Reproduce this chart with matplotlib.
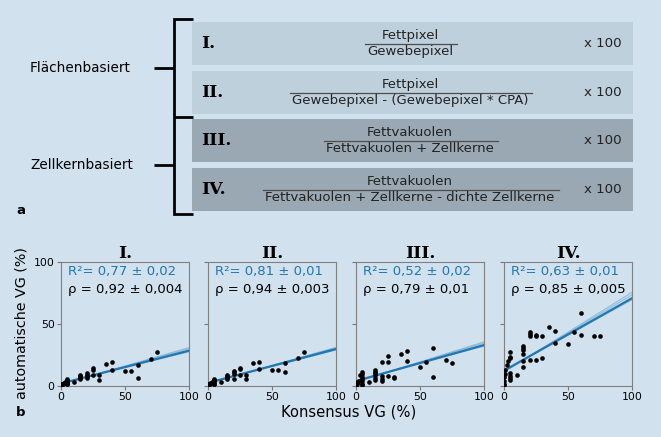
import numpy as np
import matplotlib
matplotlib.use('Agg')
from matplotlib import pyplot as plt
from matplotlib.patches import Rectangle

# ---- data ----
numerals = ['I.', 'II.', 'III.', 'IV.']
numerators = ['Fettpixel', 'Fettpixel', 'Fettvakuolen', 'Fettvakuolen']
denominators = ['Gewebepixel',
                'Gewebepixel - (Gewebepixel * CPA)',
                'Fettvakuolen + Zellkerne',
                'Fettvakuolen + Zellkerne - dichte Zellkerne']
groups = ['Flächenbasiert', 'Zellkernbasiert']

r2_text = ['0,77 ± 0,02', '0,81 ± 0,01', '0,52 ± 0,02', '0,63 ± 0,01']
rho_text = ['0,92 ± 0,004', '0,94 ± 0,003', '0,79 ± 0,01', '0,85 ± 0,005']

# consensus VG (%) - same samples in every panel
konsensus = [0, 0, 0, 0, 1, 1, 2, 3,
             5, 5, 5, 5, 5, 5, 5,
             10,
             15, 15, 15, 15, 15, 15,
             20, 20, 20, 20,
             25, 25, 25,
             30, 30,
             35,
             40, 40,
             50, 55,
             60, 60,
             70, 75]

auto_I = [0.5, 1, 1.5, 0, 2, 1, 2.2, 3.5,
          5.5, 4.5, 3.5, 2.7, 2, 1.5, 3,
          3.5,
          8.9, 7.5, 6.5, 5.6, 7, 8,
          10.2, 9, 6.2, 8,
          14.2, 12.9, 8.9,
          4.8, 8.9,
          17.5,
          19.6, 12.9,
          12.4, 12.4,
          16.9, 6.7,
          21.8, 27.7]

auto_II = [0.5, 1, 1.5, 0, 2, 1, 2.7, 3.5,
           6, 5, 4, 3, 2, 1.5, 4.5,
           3,
           8.9, 7.5, 5.6, 6.5, 8, 7,
           12, 10, 6, 11,
           14.8, 13.4, 8.9,
           8.9, 5.6,
           18.8,
           19.6, 13.7,
           12.9, 12.9,
           18.3, 11.6,
           22.3, 27.7]

auto_III = [1, 2, 0.5, 3, 2.5, 1.5, 4, 9,
            11, 9.5, 7.5, 5.6, 4, 2, 1,
            3,
            12.9, 11.6, 10.2, 8.9, 6.2, 4.8,
            19.6, 8.3, 4, 6,
            24.5, 19, 8.3,
            7.5, 6.8,
            25.5,
            28.2, 20.2,
            15.6, 19,
            30.9, 7.5,
            20.7, 18.8]

auto_IV = [0.5, 2, 4, 7, 10, 13, 17, 20,
           27.7, 23.7, 22.3, 10.2, 8.3, 6.7, 4.8,
           8.9,
           32.5, 30.4, 29, 25.5, 20, 15.6,
           43.8, 41.7, 40.6, 21,
           41.1, 40, 20.7,
           40, 22.3,
           47.3,
           44.4, 34.4,
           33.6, 43.3,
           58.6, 41.1,
           40, 40]

automatisch = [auto_I, auto_II, auto_III, auto_IV]

# regression fit value at x=0 and x=100; first entry is the main fit,
# the rest are the thin resampled fits
fit_start = [[2.0, 2.4, 1.6, 1.3],
             [2.5, 2.8, 2.2, 2.0],
             [4.0, 4.5, 3.6, 3.3],
             [12.3, 12.8, 11.8, 11.4]]
fit_end = [[28.5, 27.6, 30.0, 31.0],
           [29.8, 29.0, 30.6, 31.2],
           [33.0, 32.2, 34.6, 35.6],
           [70.8, 69.5, 73.5, 75.5]]

# ---- style ----
bg = '#d1e1ee'
light_box = '#bfd0dd'
dark_box = '#9aa8b3'
blue = '#1f77b4'

plt.rcParams['font.family'] = ['DejaVu Sans']

fig = plt.figure(figsize=(6.61, 4.37), dpi=100)
fig.patch.set_facecolor(bg)

# top part (a) drawn in pixel coordinates
ax0 = fig.add_axes([0, 0, 1, 1])
ax0.set_xlim(0, 661)
ax0.set_ylim(437, 0)
ax0.axis('off')
ax0.patch.set_alpha(0)

box_top = [22, 71, 119, 168]
box_h = 43
box_x0, box_x1 = 192, 633
cx = 410
renderer = fig.canvas.get_renderer()

for i in range(4):
    col = light_box if i < 2 else dark_box
    ax0.add_patch(Rectangle((box_x0, box_top[i]), box_x1 - box_x0, box_h,
                            facecolor=col, edgecolor='none'))
    yc = box_top[i] + box_h / 2.0
    ax0.text(201, yc, numerals[i], family='DejaVu Serif', weight='bold',
             fontsize=12.5, ha='left', va='center')
    ax0.text(cx, yc - 1.5, numerators[i], fontsize=9.5, ha='center',
             va='bottom', color='#222222')
    t = ax0.text(cx, yc + 1.5, denominators[i], fontsize=9.5, ha='center',
                 va='top', color='#222222')
    w = t.get_window_extent(renderer).width
    ax0.plot([cx - w / 2 - 2, cx + w / 2 + 4], [yc, yc], color='#4d4d4d',
             lw=0.9)
    ax0.text(603, yc, 'x 100', fontsize=9.6, ha='center', va='center',
             color='#222222')

# bracket
ax0.plot([193, 174, 174, 193], [19, 19, 214, 214], color='black', lw=2,
         solid_capstyle='butt', solid_joinstyle='miter')
ax0.plot([174, 193], [117, 117], color='black', lw=2, solid_capstyle='butt')
ax0.plot([154, 174], [68, 68], color='black', lw=2, solid_capstyle='butt')
ax0.plot([154, 174], [165, 165], color='black', lw=2, solid_capstyle='butt')

ax0.text(30, 68, groups[0], fontsize=9.8, ha='left', va='center')
ax0.text(30, 165, groups[1], fontsize=9.8, ha='left', va='center')
ax0.text(21, 211, 'a', fontsize=9.5, weight='bold', ha='center', va='center')
ax0.text(21, 412, 'b', fontsize=9.5, weight='bold', ha='center', va='center')

# bottom part (b) scatter panels
lefts = [61, 208, 356, 504]
for i in range(4):
    ax = fig.add_axes([lefts[i] / 661.0, (437 - 386) / 437.0,
                       128 / 661.0, 124 / 437.0])
    ax.patch.set_alpha(0)
    ax.scatter(konsensus, automatisch[i], s=11, color='black', zorder=3,
               linewidths=0)
    xs = np.array([0, 100])
    for k in range(1, len(fit_start[i])):
        ax.plot(xs, [fit_start[i][k], fit_end[i][k]], color=blue, lw=0.8,
                alpha=0.35, zorder=2)
    ax.plot(xs, [fit_start[i][0], fit_end[i][0]], color=blue, lw=1.6,
            zorder=2)
    ax.set_xlim(0, 100)
    ax.set_ylim(0, 100)
    ax.set_xticks([0, 50, 100])
    ax.set_yticks([0, 50, 100])
    if i > 0:
        ax.set_yticklabels([])
    ax.tick_params(labelsize=7.8, length=3, width=0.8, color='#777777', pad=1.5)
    for s in ax.spines.values():
        s.set_color('#808080')
        s.set_linewidth(0.8)
    ax.set_title(numerals[i], family='DejaVu Serif', weight='bold',
                 fontsize=12.5, pad=1)
    ax.text(0.055, 0.92, 'R²= ' + r2_text[i], color=blue, fontsize=9.5,
            transform=ax.transAxes, ha='left', va='center')
    ax.text(0.055, 0.78, 'ρ = ' + rho_text[i], color='black', fontsize=9.5,
            transform=ax.transAxes, ha='left', va='center')

fig.text(22 / 661.0, 1 - 323 / 437.0, 'automatische VG (%)', rotation=90,
         fontsize=10.3, ha='center', va='center')
fig.text(349 / 661.0, 1 - 412 / 437.0, 'Konsensus VG (%)', fontsize=10.6,
         ha='center', va='center')

fig.savefig('out.png', dpi=100, facecolor=bg)
